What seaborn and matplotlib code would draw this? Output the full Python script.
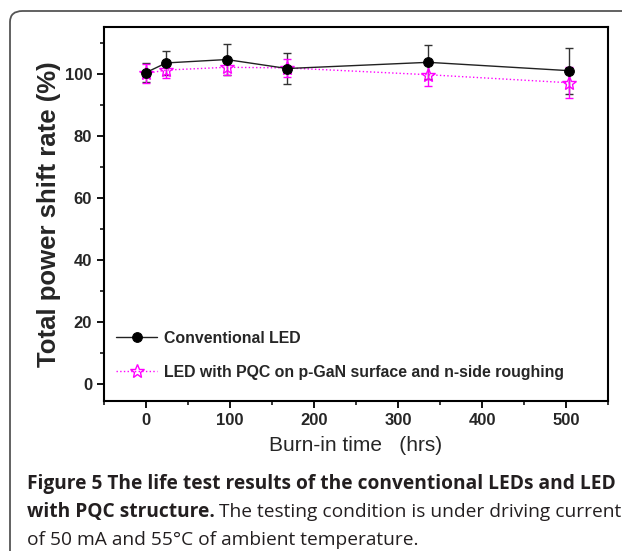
import matplotlib.pyplot as plt
import seaborn as sns
import pandas as pd
from matplotlib.patches import FancyBboxPatch
from matplotlib.ticker import MultipleLocator

# values
hours = [0, 24, 96, 168, 336, 504]
conv = [100.5, 103.6, 104.7, 101.8, 103.8, 101.1]
conv_err = [3.0, 4.0, 5.0, 5.0, 5.5, 7.4]
pqc = [100.2, 101.3, 102.2, 102.0, 99.8, 97.2]
pqc_err = [3.0, 2.5, 2.5, 3.0, 3.5, 5.0]

sns.set_style('ticks')
plt.rcParams['font.family'] = ['Liberation Sans', 'DejaVu Sans']

W, H = 622, 551
fig = plt.figure(figsize=(W / 100, H / 100), dpi=100)

# rounded frame around the whole figure (open on the right / bottom)
frame = FancyBboxPatch((10 / W, -0.1), 1.2, 1 - 11 / H + 0.1,
                       boxstyle='round,pad=0,rounding_size=0.02',
                       transform=fig.transFigure, facecolor='none',
                       edgecolor='#555555', lw=1.3)
fig.patches.append(frame)

ax = fig.add_axes([104 / W, 1 - 401 / H, (608 - 104) / W, (401 - 27) / H])

df = pd.DataFrame({'hours': hours, 'conv': conv, 'pqc': pqc})

ax.errorbar(hours, conv, yerr=conv_err, fmt='none', ecolor='#333333',
            elinewidth=1, capsize=2.7, capthick=1, zorder=2)
ax.errorbar(hours, pqc, yerr=pqc_err, fmt='none', ecolor='#ff00ff',
            elinewidth=1, capsize=2.7, capthick=1, zorder=3)
sns.lineplot(data=df, x='hours', y='conv', ax=ax, color='#222222', lw=1,
             marker='o', markersize=7, markeredgecolor='black',
             markerfacecolor='black', label='Conventional LED', zorder=4)
sns.lineplot(data=df, x='hours', y='pqc', ax=ax, color='#ff00ff', lw=1,
             linestyle=':', marker='*', markersize=10, markerfacecolor='none',
             markeredgecolor='#ff00ff', markeredgewidth=1,
             label='LED with PQC on p-GaN surface and n-side roughing', zorder=3)

ax.set_xlim(-50, 550)
ax.set_ylim(-5.5, 115.2)
ax.xaxis.set_major_locator(MultipleLocator(100))
ax.xaxis.set_minor_locator(MultipleLocator(50))
ax.yaxis.set_major_locator(MultipleLocator(20))
ax.yaxis.set_minor_locator(MultipleLocator(10))
ax.tick_params(which='major', direction='out', length=5, width=1.3,
               labelsize=12, top=False, right=False, color='black')
ax.tick_params(which='minor', direction='out', length=3, width=1.1,
               top=False, right=False, color='black')
for lab in ax.get_xticklabels() + ax.get_yticklabels():
    lab.set_fontweight('bold')
for sp in ax.spines.values():
    sp.set_linewidth(1.5)
    sp.set_color('black')

ax.set_ylabel('Total power shift rate (%)', fontsize=18.5, fontweight='bold', labelpad=3)
ax.set_xlabel('Burn-in time   (hrs)', fontsize=15, labelpad=6)

leg = ax.legend(loc='lower left', bbox_to_anchor=(0.024, 0.057), frameon=False,
                borderpad=0, borderaxespad=0,
                handlelength=2.6, handletextpad=0.4, labelspacing=1.2,
                prop={'weight': 'bold', 'size': 11.4})

# caption
cap = dict(family=['Open Sans', 'DejaVu Sans'], fontsize=13.8, va='center',
           transform=fig.transFigure, color='#231f20')
x0 = 27 / W
fig.text(x0, 1 - 484 / H,
         'Figure 5 The life test results of the conventional LEDs and LED',
         fontweight='bold', **cap)
t = fig.text(x0, 1 - 512 / H, 'with PQC structure.', fontweight='bold', **cap)
fig.canvas.draw()
bb = t.get_window_extent(fig.canvas.get_renderer())
fig.text(bb.x1 / W + 4 / W, 1 - 512 / H,
         'The testing condition is under driving current', **cap)
fig.text(x0, 1 - 540 / H, 'of 50 mA and 55\u00b0C of ambient temperature.', **cap)

fig.savefig('out.png', dpi=100)
